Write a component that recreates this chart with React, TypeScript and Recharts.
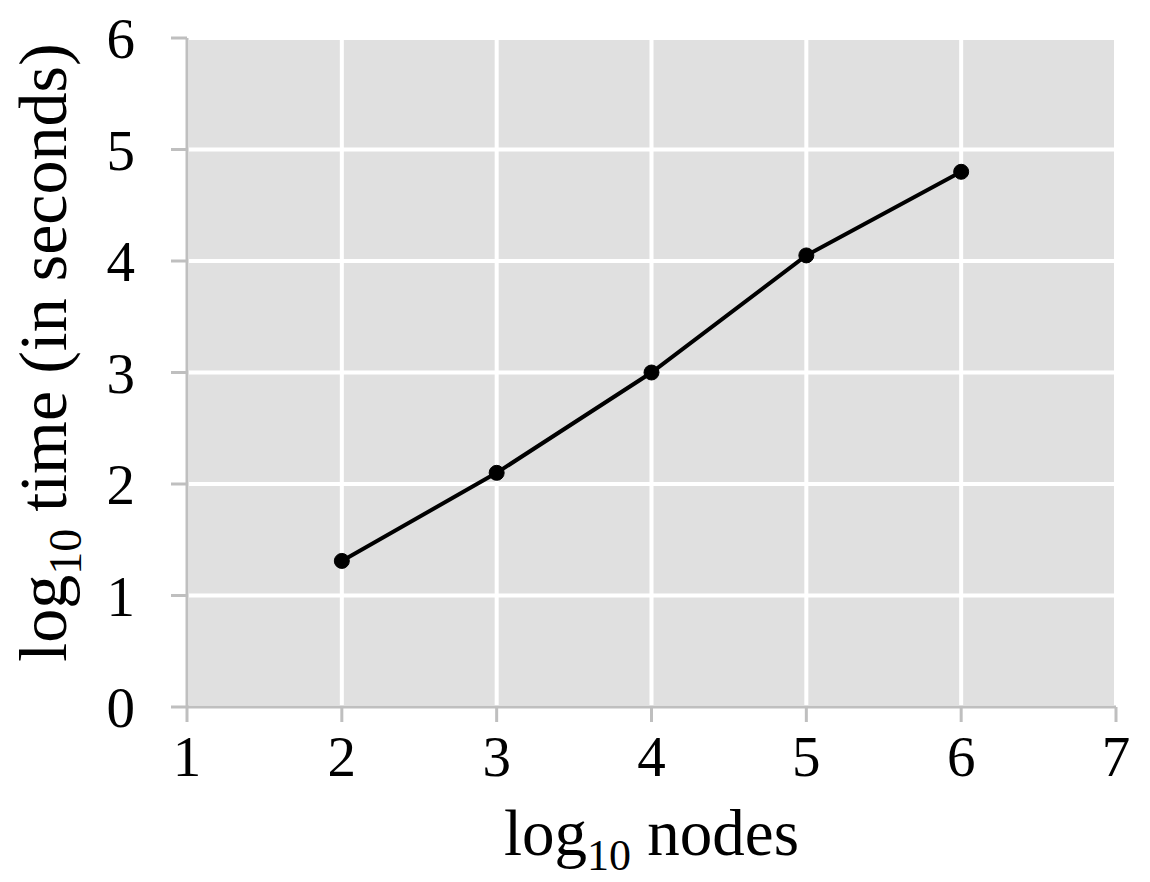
import { CartesianGrid, Line, LineChart, XAxis, YAxis } from "recharts";

// log10 nodes vs log10 time (in seconds)
const nodesLog = [2, 3, 4, 5, 6];
const timeLog = [1.31, 2.1, 3.0, 4.05, 4.8];
const xTicks = [1, 2, 3, 4, 5, 6, 7];
const yTicks = [0, 1, 2, 3, 4, 5, 6];

const data = nodesLog.map((n, i) => ({ nodes: n, time: timeLog[i] }));

const FONT = "'Liberation Serif', 'Times New Roman', serif";
const AXIS_GRAY = "#bfbfbf";

function XTitle({ viewBox }: { viewBox?: { x: number; y: number; width: number; height: number } }) {
  if (!viewBox) return null;
  const cx = viewBox.x + viewBox.width / 2;
  return (
    <text x={cx} y={855} textAnchor="middle" fontFamily={FONT} fontSize={65} fill="#000">
      log
      <tspan fontSize={44} dy={15}>10</tspan>
      <tspan dy={-15}> nodes</tspan>
    </text>
  );
}

function YTitle({ viewBox }: { viewBox?: { x: number; y: number; width: number; height: number } }) {
  if (!viewBox) return null;
  const cx = 66;
  const cy = viewBox.y + viewBox.height / 2 - 20;
  return (
    <text
      x={cx}
      y={cy}
      transform={`rotate(-90, ${cx}, ${cy})`}
      textAnchor="middle"
      fontFamily={FONT}
      fontSize={68}
      fill="#000"
    >
      log
      <tspan fontSize={46} dy={15}>10</tspan>
      <tspan dy={-15}> time (in seconds)</tspan>
    </text>
  );
}

export default function App() {
  return (
    <div style={{ position: "absolute", left: 0, top: 0, width: 1150, height: 882, background: "#fff" }}>
      <LineChart
        width={1150}
        height={882}
        data={data}
        margin={{ top: 38, right: 34, bottom: 0, left: 0 }}
      >
        <CartesianGrid fill="#e0e0e0" stroke="#ffffff" strokeWidth={4} />
        <XAxis
          dataKey="nodes"
          type="number"
          domain={[1, 7]}
          ticks={xTicks}
          height={175}
          stroke={AXIS_GRAY}
          strokeWidth={3}
          tickSize={15}
          tickMargin={14}
          tick={{ fontSize: 57, fill: "#000", fontFamily: FONT }}
          label={<XTitle />}
        />
        <YAxis
          type="number"
          domain={[0, 6]}
          ticks={yTicks}
          width={187}
          stroke={AXIS_GRAY}
          strokeWidth={3}
          tickSize={16}
          tickMargin={36}
          tick={{ fontSize: 57, fill: "#000", fontFamily: FONT }}
          label={<YTitle />}
        />
        <Line
          dataKey="time"
          type="linear"
          stroke="#000"
          strokeWidth={4}
          dot={{ r: 7.5, fill: "#000", stroke: "#000", strokeWidth: 1 }}
          isAnimationActive={false}
        />
      </LineChart>
    </div>
  );
}
